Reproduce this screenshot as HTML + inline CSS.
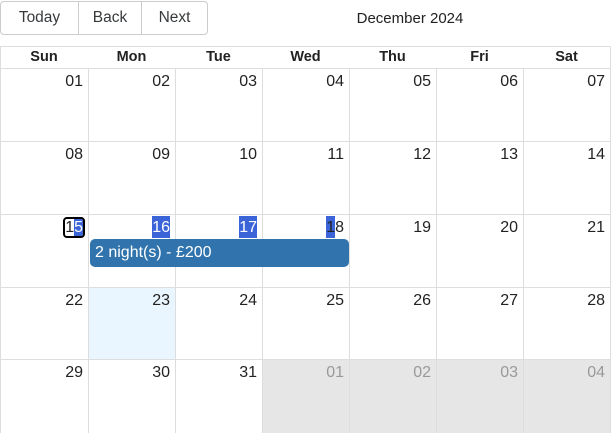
<!DOCTYPE html>
<html style="overflow:hidden;height:433px"><head><meta charset="utf-8"><style>
body{margin:0;width:611px;height:433px;overflow:hidden;background:#fff;font-family:"Liberation Sans",sans-serif;color:#373a3c;position:relative}
.btn{position:absolute;top:1px;height:34px;border:1px solid #ccc;box-sizing:border-box;font-size:15.5px;line-height:32px;text-align:center;color:#373a3c;background:#fff}
.abs{position:absolute;box-sizing:border-box}
.hd{position:absolute;top:46px;height:22px;font-weight:bold;font-size:14.5px;text-align:center;line-height:23px;color:#222}
.num{position:absolute;font-size:16px;text-align:right;line-height:18px}
#cal{position:absolute;left:0;top:0;width:611px;height:433px;overflow:hidden}
</style></head><body>
<div class="btn" style="left:0px;width:79px;border-radius:4px 0 0 4px">Today</div>
<div class="btn" style="left:78px;width:64px">Back</div>
<div class="btn" style="left:141px;width:67px;border-radius:0 4px 4px 0">Next</div>
<div class="abs" style="left:300px;width:220px;top:10px;text-align:center;font-size:15px;color:#222">December 2024</div>
<div id="cal"></div>
<script>
const xs=[0,88,175,262,349,436,523,610];
const ys=[68,141,214,287,359,433];
const days=['Sun','Mon','Tue','Wed','Thu','Fri','Sat'];
const cal=document.getElementById('cal');
function add(html){cal.insertAdjacentHTML('beforeend',html);return cal.lastElementChild;}
let o=add(`<div class="abs" style="left:0px;top:46px;width:611px;height:400px;border:1px solid #ddd"></div>`);

for(let c=0;c<7;c++){
  let h=add(`<div class="hd" style="left:${xs[c]}px;width:${xs[c+1]-xs[c]}px">${days[c]}</div>`);
  
}
for(let r=0;r<5;r++)for(let c=0;c<7;c++){
  const off=(r==4&&c>=3);
  let d=r*7+c+1; if(d>31)d-=31;
  let bg=off?'#e6e6e6':(r==3&&c==1?'#eaf6ff':'#fff');
  let cell=add(`<div class="abs" style="left:${xs[c]}px;top:${ys[r]}px;width:${xs[c+1]-xs[c]+1}px;height:${ys[r+1]-ys[r]+(r==4?5:1)}px;border:1px solid #ddd;background:${bg}"></div>`);
  
  let s=String(d).padStart(2,'0');
  let inner=s;
  if(r==2&&c==0)inner=`<span style="outline:2px solid #000;border-radius:2px;background:linear-gradient(90deg,#fff 50%,#3a64d8 50%)">1<span style="color:#fff">5</span></span>`;
  else if(r==2&&(c==1||c==2))inner=`<span style="background:#3a64d8;color:#fff;padding:3px 0 2px">${s}</span>`;
  else if(r==2&&c==3)inner=`<span style="background:linear-gradient(90deg,#3a64d8 50%,#fff 50%);padding:3px 0 2px">18</span>`;
  let n=add(`<div class="num" style="left:${xs[c]}px;width:${xs[c+1]-xs[c]-5}px;top:${ys[r]+5}px;color:${off?'#999':'#222'}">${inner}</div>`);
  
}
let ev=add(`<div class="abs" style="left:90px;top:239px;width:259px;height:28px;background:#3174ad;border-radius:5px;color:#fff;font-size:16px;line-height:28px;padding-left:5px">2 night(s) - £200</div>`);

</script>
</body></html>
